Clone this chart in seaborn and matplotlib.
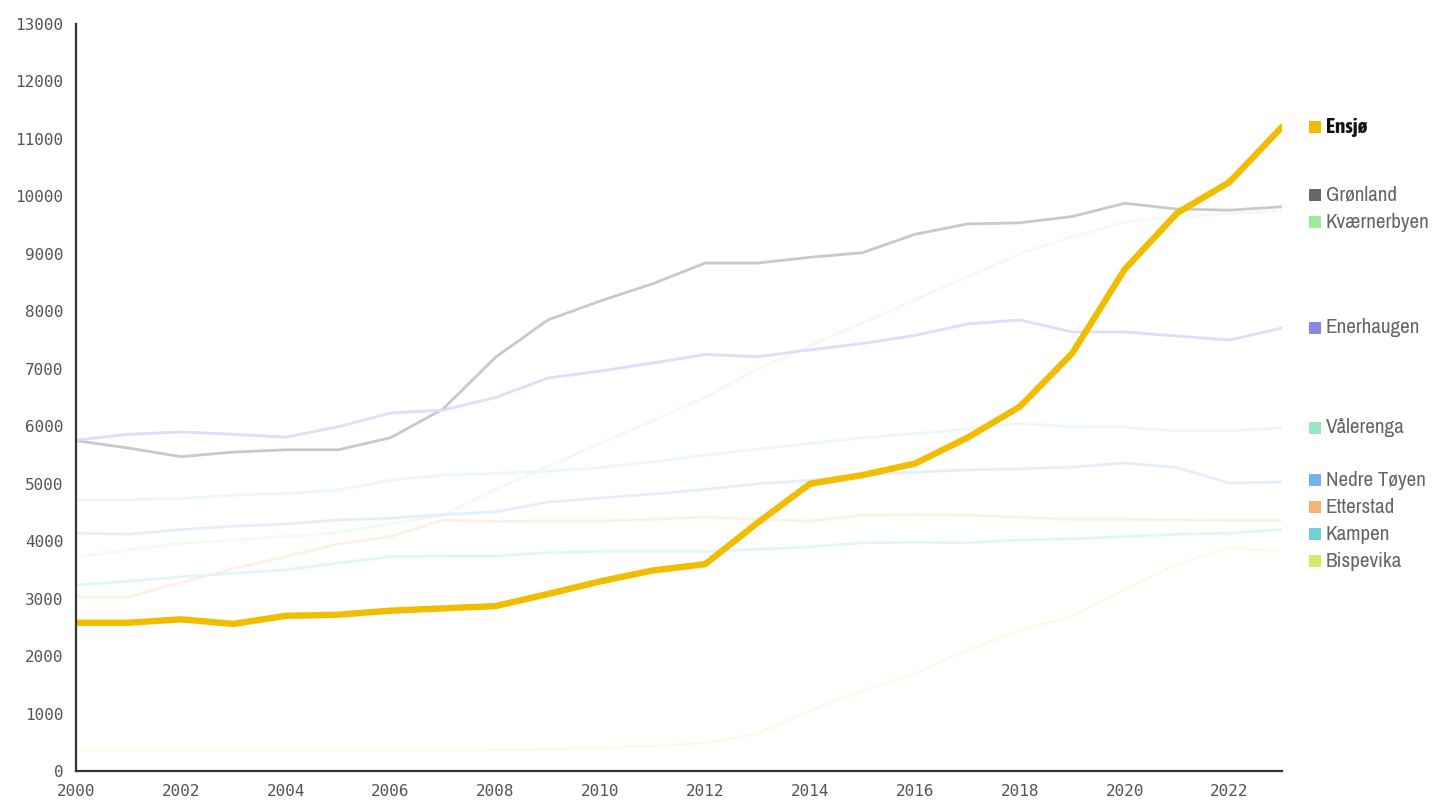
import numpy as np
import pandas as pd
import matplotlib
matplotlib.use("Agg")
import matplotlib.pyplot as plt
import matplotlib.colors as mcolors
from matplotlib import font_manager
import seaborn as sns

years = list(range(2000, 2024))

ensjo = [2580, 2580, 2640, 2560, 2700, 2720, 2790, 2830, 2870, 3080, 3300, 3490,
         3600, 4320, 5000, 5150, 5350, 5800, 6340, 7270, 8730, 9710, 10250, 11210]
gronland = [5750, 5620, 5470, 5550, 5590, 5590, 5800, 6300, 7200, 7850, 8180, 8480,
            8840, 8840, 8940, 9020, 9340, 9520, 9540, 9650, 9880, 9780, 9760, 9820]
kvaernerbyen = [3720, 3850, 3960, 4020, 4080, 4150, 4300, 4450, 4900, 5300, 5700, 6100,
                6500, 7000, 7400, 7800, 8200, 8600, 9000, 9300, 9550, 9650, 9700, 9750]
enerhaugen = [5760, 5860, 5900, 5860, 5810, 5990, 6230, 6280, 6500, 6840, 6960, 7100,
              7250, 7210, 7330, 7440, 7580, 7780, 7850, 7640, 7640, 7570, 7500, 7710]
valerenga = [4720, 4720, 4740, 4800, 4830, 4890, 5060, 5150, 5180, 5220, 5280, 5380,
             5500, 5600, 5700, 5800, 5870, 5950, 6050, 5990, 5980, 5920, 5920, 5970]
nedre_toyen = [4140, 4120, 4200, 4260, 4300, 4370, 4400, 4460, 4510, 4680, 4750, 4820,
               4900, 5000, 5060, 5150, 5200, 5240, 5260, 5290, 5360, 5280, 5010, 5030]
etterstad = [3030, 3030, 3280, 3520, 3730, 3950, 4080, 4370, 4340, 4350, 4350, 4380,
             4420, 4380, 4350, 4450, 4460, 4450, 4420, 4380, 4380, 4370, 4360, 4360]
kampen = [3240, 3300, 3380, 3440, 3500, 3620, 3730, 3740, 3740, 3800, 3820, 3820,
          3820, 3860, 3900, 3970, 3980, 3970, 4020, 4040, 4080, 4120, 4140, 4200]
bispevika = [350, 350, 350, 350, 350, 360, 360, 365, 370, 380, 400, 430,
             490, 650, 1050, 1400, 1700, 2100, 2450, 2700, 3150, 3600, 3900, 3820]

areas = ["Ensjø", "Grønland", "Kværnerbyen", "Enerhaugen", "Vålerenga",
         "Nedre Tøyen", "Etterstad", "Kampen", "Bispevika"]
series = [ensjo, gronland, kvaernerbyen, enerhaugen, valerenga,
          nedre_toyen, etterstad, kampen, bispevika]

colors = {
    "Ensjø": "#f2bd00",
    "Grønland": "#666666",
    "Kværnerbyen": "#9fea9a",
    "Enerhaugen": "#8c86e6",
    "Vålerenga": "#98e6c2",
    "Nedre Tøyen": "#7aaef2",
    "Etterstad": "#f7b27a",
    "Kampen": "#6fd3d0",
    "Bispevika": "#d2ec6a",
}
fade = {"Grønland": 0.35, "Enerhaugen": 0.28, "Bispevika": 0.15, "Kværnerbyen": 0.16}


def faded(c, a):
    rgb = np.array(mcolors.to_rgb(c))
    return tuple(1 - a * (1 - rgb))


def narrow_font(bold):
    # look for a condensed sans for the end labels
    fonts = font_manager.fontManager.ttflist
    want = ("condensed", "narrow")
    hits = []
    for f in fonts:
        tag = (f.name + " " + f.fname).lower()
        if any(w in tag for w in want) or f.stretch in ("condensed", "semi-condensed"):
            if "mono" in tag or "italic" in tag or "oblique" in f.style:
                continue
            w = f.weight if isinstance(f.weight, int) else (700 if "bold" in str(f.weight) else 400)
            hits.append((abs(w - (700 if bold else 400)), "dejavu" in tag, f.fname))
    if hits:
        hits.sort()
        return font_manager.FontProperties(fname=hits[0][2]), True
    return font_manager.FontProperties(family="Roboto",
                                       weight="bold" if bold else "normal"), False


df = pd.DataFrame({
    "år": np.tile(years, len(areas)),
    "område": np.repeat(areas, len(years)),
    "verdi": np.concatenate(series),
})

sns.set_style("white")
plt.rcParams["font.family"] = ["DejaVu Sans Mono", "DejaVu Sans"]

fig = plt.figure(figsize=(14.39, 8.02), dpi=100)
ax = fig.add_axes([76 / 1439, 1 - 771 / 802, (1282 - 76) / 1439, (771 - 24) / 802])

others = df[df["område"] != "Ensjø"]
pal = {a: faded(colors[a], fade.get(a, 0.2)) for a in areas if a != "Ensjø"}
sns.lineplot(data=others, x="år", y="verdi", hue="område", palette=pal,
             linewidth=2.0, legend=False, ax=ax)
sns.lineplot(data=df[df["område"] == "Ensjø"], x="år", y="verdi",
             color=colors["Ensjø"], linewidth=4.6, legend=False, ax=ax,
             solid_capstyle="round")

ax.set_xlim(2000, 2023)
ax.set_ylim(0, 13000)
ax.set_xticks(list(range(2000, 2023, 2)) + [2023])
ax.set_xticklabels([str(y) for y in range(2000, 2023, 2)] + [""])
ax.set_yticks(range(0, 13001, 1000))
ax.set_xlabel("")
ax.set_ylabel("")
ax.tick_params(axis="both", length=6, width=1.4, color="#222222",
               labelcolor="#555555", labelsize=11.5, pad=3, direction="out")
ax.tick_params(axis="x", pad=3)
for side in ["top", "right"]:
    ax.spines[side].set_visible(False)
for side in ["left", "bottom"]:
    ax.spines[side].set_color("#333333")
    ax.spines[side].set_linewidth(1.6)

# labels at the right end, pushed apart where they crowd
ends = {a: s[-1] for a, s in zip(areas, series)}
order = sorted(areas, key=lambda a: -ends[a])
gap = 470
groups = [[a] for a in order]
changed = True
while changed:
    changed = False
    for i in range(len(groups) - 1):
        g1, g2 = groups[i], groups[i + 1]
        top2 = np.mean([ends[a] for a in g2]) + gap * (len(g2) - 1) / 2
        bot1 = np.mean([ends[a] for a in g1]) - gap * (len(g1) - 1) / 2
        if bot1 - top2 < gap:
            groups[i] = g1 + g2
            del groups[i + 1]
            changed = True
            break
label_y = {}
for g in groups:
    mid = np.mean([ends[a] for a in g])
    for k, a in enumerate(g):
        label_y[a] = mid + gap * ((len(g) - 1) / 2 - k)

fp_reg, is_narrow = narrow_font(False)
fp_bold, _ = narrow_font(True)
size = 15.2 if is_narrow else 12.2

for a in areas:
    y = label_y[a]
    ax.scatter([2023.62], [y], marker="s", s=75, color=colors[a],
               clip_on=False, zorder=5, linewidths=0)
    bold = a == "Ensjø"
    fp = (fp_bold if bold else fp_reg).copy()
    fp.set_size(size)
    if bold and not is_narrow:
        fp.set_weight("bold")
    ax.text(2023.83, y, a, va="center", ha="left", fontproperties=fp,
            color="#111111" if bold else "#666666", clip_on=False)

fig.savefig("out.png", dpi=100)
